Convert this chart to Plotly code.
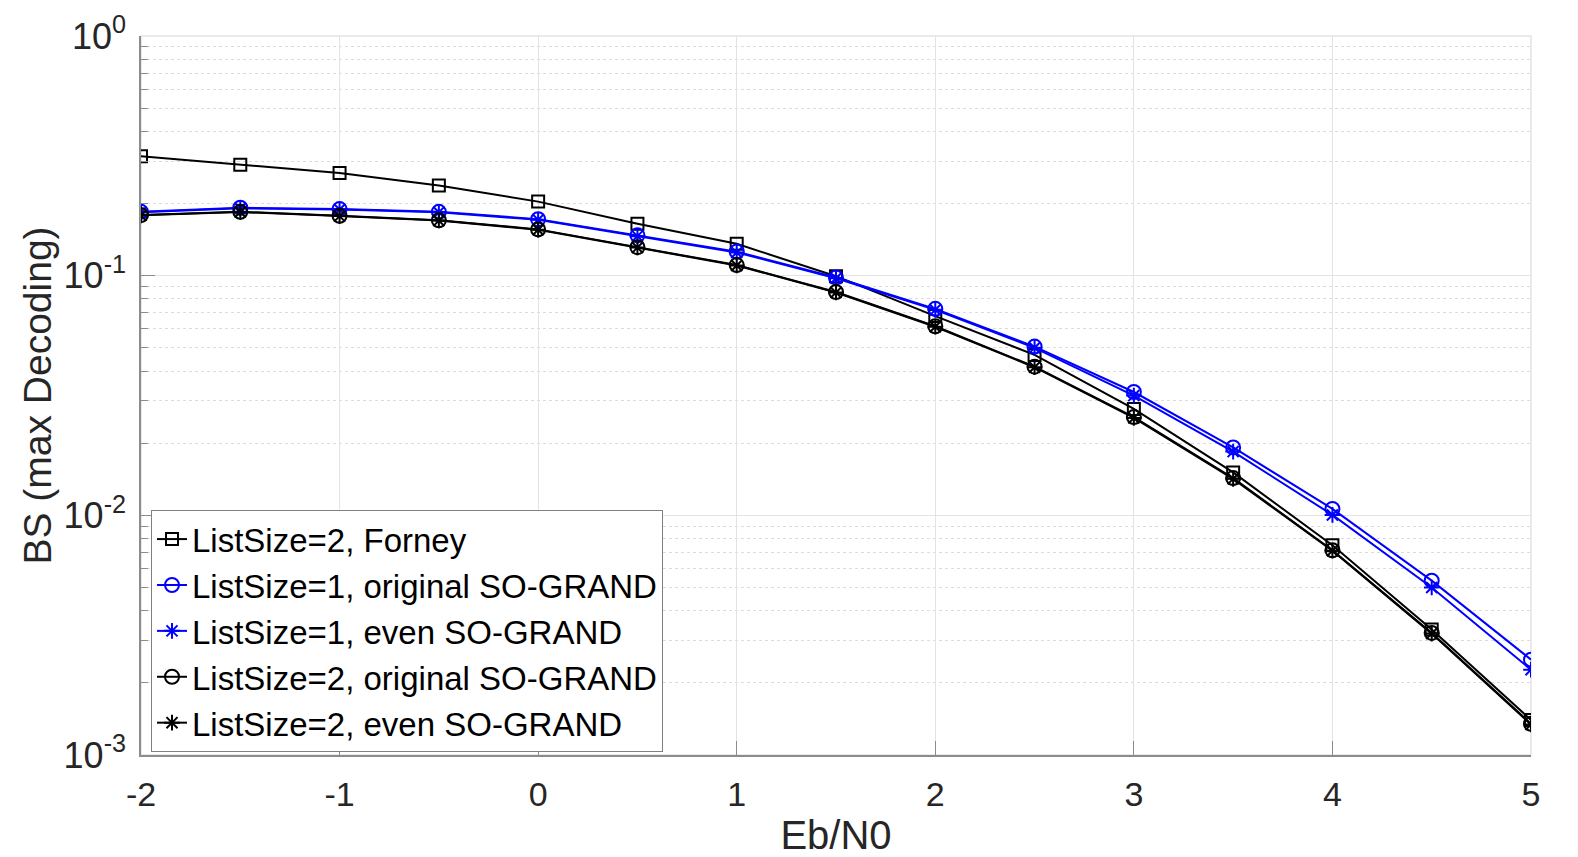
import plotly.graph_objects as go

ebn0 = [-2, -1.5, -1, -0.5, 0, 0.5, 1, 1.5, 2, 2.5, 3, 3.5, 4, 4.5, 5]

forney_l2 = [0.315, 0.2905, 0.268, 0.2377, 0.2037, 0.1648, 0.1358, 0.0995, 0.0678,
             0.0467, 0.0278, 0.0151, 0.0075, 0.00334, 0.00140]
orig_l1 = [0.1847, 0.192, 0.1896, 0.1847, 0.172, 0.1473, 0.126, 0.0983, 0.0727,
           0.0506, 0.0327, 0.0192, 0.01064, 0.00534, 0.00250]
even_l1 = [0.1840, 0.1912, 0.1888, 0.1838, 0.1710, 0.1462, 0.1250, 0.0975, 0.0720,
           0.0500, 0.0316, 0.01845, 0.01004, 0.00500, 0.00227]
orig_l2 = [0.179, 0.1847, 0.1777, 0.1703, 0.156, 0.1315, 0.1107, 0.0855, 0.0615,
           0.0417, 0.0257, 0.0143, 0.00715, 0.00323, 0.00135]
even_l2 = [0.1785, 0.1843, 0.1772, 0.1698, 0.1555, 0.1310, 0.1103, 0.0851, 0.0612,
           0.0415, 0.0255, 0.0142, 0.00712, 0.00321, 0.00134]

names = ["ListSize=2, Forney", "ListSize=1, original SO-GRAND", "ListSize=1, even SO-GRAND",
         "ListSize=2, original SO-GRAND", "ListSize=2, even SO-GRAND"]

ytick_vals = [1e-3, 1e-2, 1e-1, 1]
ytick_text = ["10<sup>-3</sup>", "10<sup>-2</sup>", "10<sup>-1</sup>", "10<sup>0</sup>"]
yminor_vals = [m * 10.0 ** e for e in (-3, -2, -1) for m in range(2, 10)]
xtick_vals = [-2, -1, 0, 1, 2, 3, 4, 5]
xtick_text = ["-2", "-1", "0", "1", "2", "3", "4", "5"]

FONT = "Liberation Sans, Arial, Helvetica, sans-serif"
TXT = "#262626"
BLUE = "#0000ff"
BLACK = "#000000"

series = [
    (forney_l2, BLACK, "square-open", 12),
    (orig_l1, BLUE, "circle-open", 14),
    (even_l1, BLUE, "asterisk-open", 13),
    (orig_l2, BLACK, "circle-open", 14),
    (even_l2, BLACK, "asterisk-open", 13),
]

fig = go.Figure()
for (vals, col, sym, sz), nm in zip(series, names):
    fig.add_trace(go.Scatter(
        x=ebn0, y=vals, name=nm, mode="lines+markers",
        line=dict(color=col, width=2),
        marker=dict(symbol=sym, size=sz, color=col, line=dict(color=col, width=2)),
    ))

fig.add_shape(type="rect", xref="paper", yref="paper", x0=0, x1=1, y0=0, y1=1,
              line=dict(color="#e3e3e3", width=1.5), layer="below")

# the page body adds an 8px offset, so the figure is sized 8px smaller
fig.update_layout(
    width=1570, height=849,
    margin=dict(l=133, r=47, t=28, b=102),
    paper_bgcolor="white", plot_bgcolor="white",
    font=dict(family=FONT, color=TXT, size=32),
    showlegend=True,
    legend=dict(
        x=0.0072, y=0.004, xanchor="left", yanchor="bottom",
        bgcolor="white", bordercolor="#808080", borderwidth=1,
        font=dict(family=FONT, size=33, color=BLACK),
        tracegroupgap=0, itemwidth=30,
    ),
    xaxis=dict(
        range=[-2, 5], tickmode="array", tickvals=xtick_vals, ticktext=xtick_text,
        ticks="inside", ticklen=14, tickcolor="#8c8c8c", tickwidth=1,
        showline=True, linecolor="#8c8c8c", linewidth=1.5, mirror=False,
        showgrid=True, gridcolor="#e3e3e3", gridwidth=1, zeroline=False,
        tickfont=dict(family=FONT, size=34, color=TXT),
        title=dict(text="Eb/N0", font=dict(family=FONT, size=40, color=TXT), standoff=16),
        ticklabelstandoff=8, automargin=False,
    ),
    yaxis=dict(
        type="log", range=[-3, 0], tickmode="array", tickvals=ytick_vals, ticktext=ytick_text,
        ticks="inside", ticklen=14, tickcolor="#8c8c8c", tickwidth=1,
        showline=True, linecolor="#8c8c8c", linewidth=1.5, mirror=False,
        showgrid=True, gridcolor="#e3e3e3", gridwidth=1, zeroline=False,
        tickfont=dict(family=FONT, size=36, color=TXT),
        title=dict(text="BS (max Decoding)", font=dict(family=FONT, size=39, color=TXT), standoff=0),
        ticklabelstandoff=6, automargin=False,
        minor=dict(tickmode="array", tickvals=yminor_vals, ticks="inside", ticklen=7,
                   tickcolor="#8c8c8c", showgrid=True, gridcolor="#dcdcdc", griddash="dot", gridwidth=1),
    ),
)

fig.write_html("out.html")
